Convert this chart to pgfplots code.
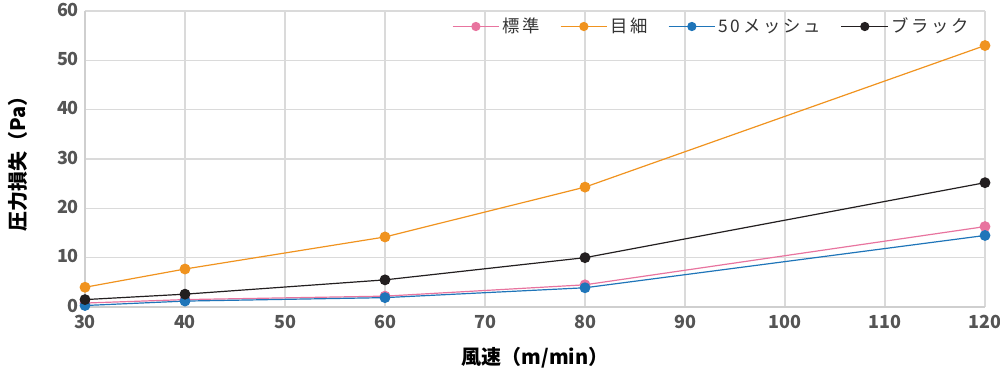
\documentclass[border=0pt]{standalone}
\usepackage{pgfplots}
\pgfplotsset{compat=1.18}
\usepackage{fontspec}
\setmainfont{Noto Sans CJK JP}
\definecolor{cpink}{HTML}{E8749F}
\definecolor{corange}{HTML}{F0931F}
\definecolor{cblue}{HTML}{1F75B9}
\definecolor{cblack}{HTML}{231F20}
\definecolor{cgrid}{HTML}{DADADA}
\definecolor{caxis}{HTML}{CFCFCF}
\definecolor{ctick}{HTML}{555555}
\definecolor{clegend}{HTML}{333333}
\begin{document}
\begin{tikzpicture}
\begin{axis}[
  scale only axis, width=675pt, height=222pt,
  xmin=30, xmax=120, ymin=0, ymax=60,
  xtick={30,40,...,120}, ytick={0,10,...,60},
  grid=major, major grid style={cgrid, line width=0.9pt},
  axis line style={caxis, line width=1.5pt},
  axis x line*=bottom, axis y line*=left,
  tick style={draw=none},
  /pgf/number format/assume math mode=true,
  ticklabel style={font=\fontsize{13.5pt}{15pt}\selectfont\bfseries, text=ctick},
  xticklabel style={yshift=-2.5pt},
  yticklabel style={xshift=-1pt, yshift=1pt},
  xlabel={\fontsize{15pt}{17pt}\selectfont\bfseries 風速（m/min）},
  ylabel={\fontsize{15pt}{17pt}\selectfont\bfseries 圧力損失（Pa）},
  xlabel style={at={(axis description cs:0.5,-0.172)}, anchor=center},
  ylabel style={at={(axis description cs:-0.0744,0.5)}, anchor=center},
  every axis plot/.append style={line width=0.9pt, mark=*, mark size=3.6pt},
  legend style={draw=none, fill=none, at={(0.99,0.995)}, anchor=north east,
    legend columns=-1, font=\fontsize{13pt}{15pt}\selectfont\addfontfeature{LetterSpace=16}, text=clegend,
    /tikz/every even column/.append style={column sep=13pt}},
  legend image code/.code={
    \draw[#1, mark=none] (0pt,0pt) -- (35pt,0pt);
    \path[#1, mark size=3pt] plot coordinates {(17.5pt,0pt)};
  },
  clip=false,
]
\addplot[cpink, mark options={fill=cpink, draw=cpink}] coordinates {(30,0.8) (40,1.5) (60,2.2) (80,4.5) (120,16.3)};
\addlegendentry{標準}
\addplot[corange, mark options={fill=corange, draw=corange}] coordinates {(30,4.0) (40,7.7) (60,14.2) (80,24.3) (120,53.0)};
\addlegendentry{目細}
\addplot[cblue, mark options={fill=cblue, draw=cblue}] coordinates {(30,0.3) (40,1.2) (60,1.9) (80,3.9) (120,14.5)};
\addlegendentry{50メッシュ}
\addplot[cblack, mark options={fill=cblack, draw=cblack}] coordinates {(30,1.5) (40,2.6) (60,5.5) (80,10.0) (120,25.2)};
\addlegendentry{ブラック}
\end{axis}
\pgfresetboundingbox
\path (-63.75pt,-53.25pt) rectangle (686.25pt,230.25pt);
\end{tikzpicture}
\end{document}
